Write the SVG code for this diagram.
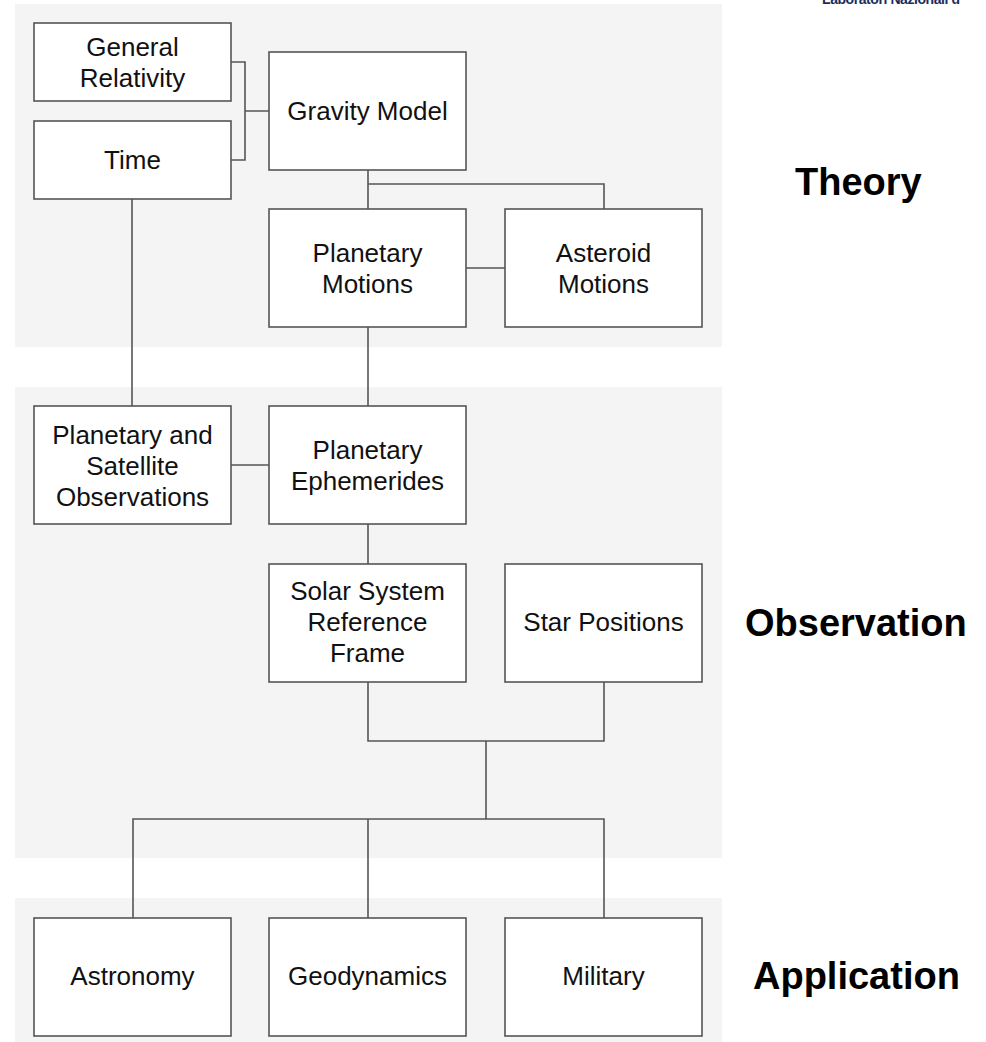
<svg xmlns="http://www.w3.org/2000/svg" width="986" height="1042" viewBox="0 0 986 1042">
<style>
.band{fill:#f4f4f4}
.box{fill:#fff;stroke:#555;stroke-width:1.6}
.t{font-family:"Liberation Sans",Arial,sans-serif;font-size:26px;fill:#111;text-anchor:middle}
.lab{font-family:"Liberation Sans",Arial,sans-serif;font-size:38px;font-weight:bold;fill:#000}
.con{fill:none;stroke:#555;stroke-width:1.6}
</style>
<rect width="986" height="1042" fill="#fff"/>
<g id="bands">
<rect class="band" x="15" y="4" width="707" height="343"/>
<rect class="band" x="15" y="387" width="707" height="471"/>
<rect class="band" x="15" y="898" width="707" height="144"/>
</g>
<text x="822" y="4" font-family="Liberation Sans,Arial,sans-serif" font-size="14" font-weight="bold" fill="#1c2d5e" textLength="138">Laboratori Nazionali d</text>
<g id="connectors">
<path class="con" d="M231,62 H245 V160 H231 M245,111 H269"/>
<path class="con" d="M132,199 V406"/>
<path class="con" d="M368,170 V209 M368,184 H604 V209"/>
<path class="con" d="M466,268 H505"/>
<path class="con" d="M368,327 V406"/>
<path class="con" d="M231,465 H269"/>
<path class="con" d="M368,524 V564"/>
<path class="con" d="M368,682 V741 H604 V682 M486,741 V819"/>
<path class="con" d="M133,918 V819 H604 V918 M368,819 V918"/>
</g>
<g id="general-relativity"><rect class="box" x="34" y="23" width="197" height="78"/><text class="t" x="132.5" y="56">General</text><text class="t" x="132.5" y="87">Relativity</text></g>
<g id="time"><rect class="box" x="34" y="121" width="197" height="78"/><text class="t" x="132.5" y="169">Time</text></g>
<g id="gravity-model"><rect class="box" x="269" y="52" width="197" height="118"/><text class="t" x="367.5" y="120">Gravity Model</text></g>
<g id="planetary-motions"><rect class="box" x="269" y="209" width="197" height="118"/><text class="t" x="367.5" y="262">Planetary</text><text class="t" x="367.5" y="293">Motions</text></g>
<g id="asteroid-motions"><rect class="box" x="505" y="209" width="197" height="118"/><text class="t" x="603.5" y="262">Asteroid</text><text class="t" x="603.5" y="293">Motions</text></g>
<g id="planetary-satellite-observations"><rect class="box" x="34" y="406" width="197" height="118"/><text class="t" x="132.5" y="444">Planetary and</text><text class="t" x="132.5" y="475">Satellite</text><text class="t" x="132.5" y="506">Observations</text></g>
<g id="planetary-ephemerides"><rect class="box" x="269" y="406" width="197" height="118"/><text class="t" x="367.5" y="459">Planetary</text><text class="t" x="367.5" y="490">Ephemerides</text></g>
<g id="solar-system-reference-frame"><rect class="box" x="269" y="564" width="197" height="118"/><text class="t" x="367.5" y="600">Solar System</text><text class="t" x="367.5" y="631">Reference</text><text class="t" x="367.5" y="662">Frame</text></g>
<g id="star-positions"><rect class="box" x="505" y="564" width="197" height="118"/><text class="t" x="603.5" y="631">Star Positions</text></g>
<g id="astronomy"><rect class="box" x="34" y="918" width="197" height="118"/><text class="t" x="132.5" y="985">Astronomy</text></g>
<g id="geodynamics"><rect class="box" x="269" y="918" width="197" height="118"/><text class="t" x="367.5" y="985">Geodynamics</text></g>
<g id="military"><rect class="box" x="505" y="918" width="197" height="118"/><text class="t" x="603.5" y="985">Military</text></g>
<g id="labels">
<text class="lab" x="795" y="195">Theory</text>
<text class="lab" x="745" y="636">Observation</text>
<text class="lab" x="753" y="989">Application</text>
</g>
</svg>
